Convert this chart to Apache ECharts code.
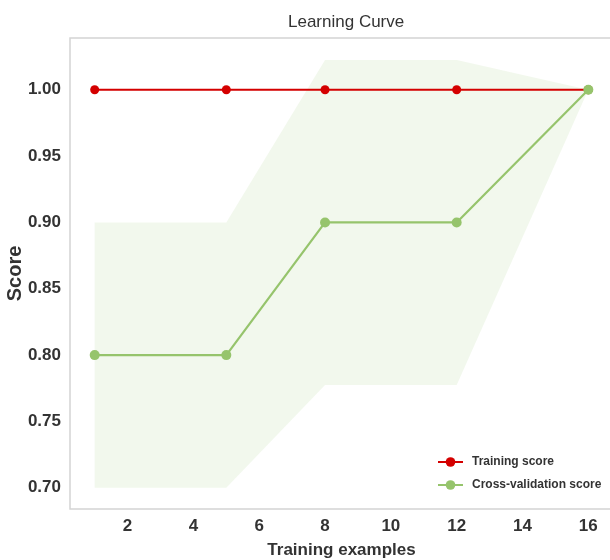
<!DOCTYPE html>
<html>
<head>
<meta charset="utf-8">
<script src="https://cdn.jsdelivr.net/npm/echarts@6/dist/echarts.min.js"></script>
<style>
html,body{margin:0;padding:0;background:#fff;}
#chart{width:610px;height:560px;}
</style>
</head>
<body>
<div id="chart"></div>
<script>
// Learning curve data
const trainSizes = [1, 5, 8, 12, 16];
const trainMean = [1.0, 1.0, 1.0, 1.0, 1.0];
const trainStd = [0, 0, 0, 0, 0];
const cvMean = [0.8, 0.8, 0.9, 0.9, 1.0];
const cvStd = [0.1, 0.1, 0.1225, 0.1225, 0];
const xTicks = [2, 4, 6, 8, 10, 12, 14, 16];
const yTicks = [0.70, 0.75, 0.80, 0.85, 0.90, 0.95, 1.00];

const FONT = '"Liberation Sans Narrow", "Liberation Sans", Arial, sans-serif';
const RED = '#d40000';
const GREEN = '#96c46c';

// Shaded mean ± std band, drawn as one polygon through the axis scales
function bandSeries(mean, std, color, opacity) {
  const pts = mean.map((m, i) => [trainSizes[i], m - std[i], m + std[i]]);
  return {
    type: 'custom',
    silent: true,
    z: 1,
    data: [0],
    renderItem: function (params, api) {
      const upper = pts.map(p => api.coord([p[0], p[2]]));
      const lower = pts.slice().reverse().map(p => api.coord([p[0], p[1]]));
      return {
        type: 'polygon',
        shape: { points: upper.concat(lower) },
        style: { fill: color, opacity: opacity, stroke: null }
      };
    }
  };
}

const chart = echarts.init(document.getElementById('chart'), null, { renderer: 'canvas' });
chart.setOption({
  animation: false,
  backgroundColor: '#ffffff',
  title: {
    text: 'Learning Curve',
    left: 283, top: 9,
    textStyle: { fontFamily: FONT, fontSize: 17, fontWeight: 'normal', color: '#333' }
  },
  grid: {
    left: 70, top: 38, width: 543, height: 471,
    outerBoundsMode: 'none', containLabel: false,
    show: true, borderColor: '#d4d4d4', borderWidth: 1.5, backgroundColor: '#fff'
  },
  xAxis: {
    type: 'value', min: 0.25, max: 16.75, interval: 2,
    name: 'Training examples', nameLocation: 'middle', nameGap: 33, nameMoveOverlap: false,
    nameTextStyle: { fontFamily: FONT, fontSize: 17, fontWeight: 'bold', color: '#333' },
    axisLine: { show: false }, axisTick: { show: false }, splitLine: { show: false },
    axisLabel: {
      fontFamily: FONT, fontSize: 17, fontWeight: 'bold', color: '#333', margin: 9,
      customValues: xTicks, formatter: v => String(v)
    }
  },
  yAxis: {
    type: 'value', min: 0.684, max: 1.039,
    name: 'Score', nameLocation: 'middle', nameGap: 45, nameRotate: 90, nameMoveOverlap: false,
    nameTextStyle: { fontFamily: FONT, fontSize: 20, fontWeight: 'bold', color: '#333' },
    axisLine: { show: false }, axisTick: { show: false }, splitLine: { show: false },
    axisLabel: {
      fontFamily: FONT, fontSize: 17, fontWeight: 'bold', color: '#333', margin: 9,
      customValues: yTicks, formatter: v => v.toFixed(2)
    }
  },
  legend: {
    left: 437, top: 455, orient: 'vertical', itemGap: 9,
    itemWidth: 25, itemHeight: 12, padding: 0,
    textStyle: { fontFamily: FONT, fontSize: 12, fontWeight: 'bold', color: '#333', padding: [0, 0, 0, 4], lineHeight: 14 },
    data: ['Training score', 'Cross-validation score']
  },
  series: [
    bandSeries(trainMean, trainStd, RED, 0.1),
    bandSeries(cvMean, cvStd, GREEN, 0.12),
    {
      name: 'Training score', type: 'line', z: 3,
      data: trainSizes.map((x, i) => [x, trainMean[i]]),
      symbol: 'circle', symbolSize: 9,
      lineStyle: { color: RED, width: 2.2 },
      itemStyle: { color: RED }
    },
    {
      name: 'Cross-validation score', type: 'line', z: 4,
      data: trainSizes.map((x, i) => [x, cvMean[i]]),
      symbol: 'circle', symbolSize: 10,
      lineStyle: { color: GREEN, width: 2.2 },
      itemStyle: { color: GREEN }
    }
  ]
});
</script>
</body>
</html>
